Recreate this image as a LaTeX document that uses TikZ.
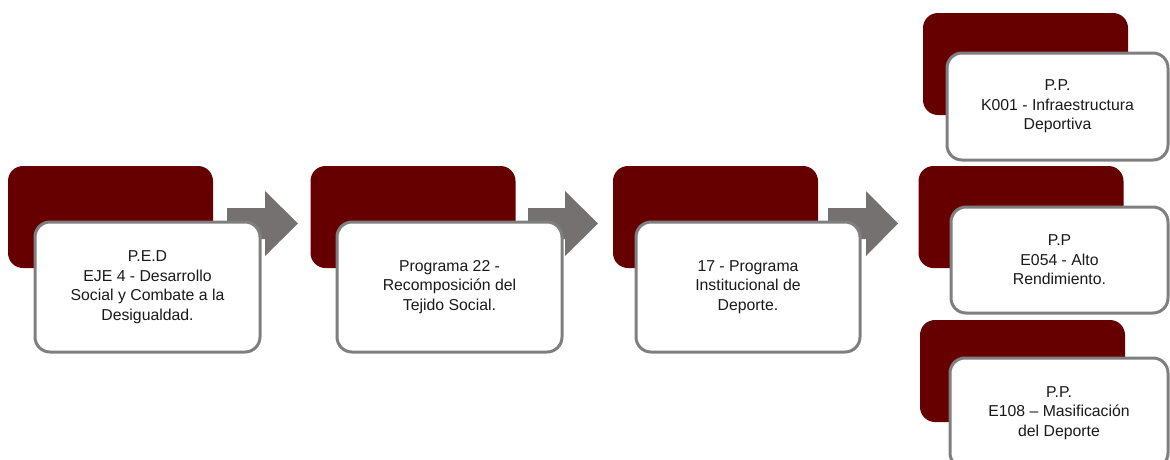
\documentclass[tikz,border=0pt]{standalone}
\usepackage{fontspec}
\setmainfont{Liberation Sans}
\definecolor{darkred}{HTML}{660000}
\definecolor{bordergray}{HTML}{7F7F7F}
\definecolor{arrowgray}{HTML}{767171}
\definecolor{textblack}{HTML}{1A1A1A}
\tikzset{
  back/.style={fill=darkred, draw=none, rounded corners=15pt, inner sep=0pt, minimum width=205pt, minimum height=102pt},
  card/.style={draw=bordergray, line width=3pt, fill=white, rounded corners=15pt, align=center,
    font=\fontsize{15.8}{19.5}\selectfont, text=textblack, inner sep=0pt},
  flow/.style={fill=arrowgray, draw=none}
}
\begin{document}
\begin{tikzpicture}[x=1pt,y=-1pt]
\useasboundingbox (0,0) rectangle (1170,459);
% back panels
\node[back] (b1) at (110.5,217) {};
\node[back] (b2) at (413,217) {};
\node[back] (b3) at (715.5,217) {};
\node[back] (bA) at (1025.5,64) {};
\node[back] (bB) at (1021,217) {};
\node[back] (bC) at (1022.5,371) {};
% arrows
\fill[flow] (227,208) -- (265,208) -- (265,191) -- (298,223.5) -- (265,256) -- (265,239) -- (227,239) -- cycle;
\fill[flow] (528,208) -- (565,208) -- (565,191) -- (598,223.5) -- (565,256) -- (565,239) -- (528,239) -- cycle;
\fill[flow] (828,208) -- (866,208) -- (866,191) -- (898,223.5) -- (866,256) -- (866,239) -- (828,239) -- cycle;
% cards
\node[card, minimum width=225pt, minimum height=130pt] (c1) at (147.5,287)
  {P.E.D\\EJE 4 - Desarrollo\\Social y Combate a la\\Desigualdad.};
\node[card, minimum width=225pt, minimum height=130pt] (c2) at (449.5,287)
  {Programa 22 -\\Recomposición del\\Tejido Social.};
\node[card, minimum width=224pt, minimum height=130pt] (c3) at (748,287)
  {17 - Programa\\Institucional de\\Deporte.};
\node[card, minimum width=221pt, minimum height=107pt] (cA) at (1057.5,106.5)
  {P.P.\\K001 - Infraestructura\\Deportiva};
\node[card, minimum width=217pt, minimum height=106pt] (cB) at (1059.5,260)
  {P.P\\E054 - Alto\\Rendimiento.};
\node[card, minimum width=218pt, minimum height=110pt] (cC) at (1059,413)
  {P.P.\\E108 – Masificación\\del Deporte};
\end{tikzpicture}
\end{document}
